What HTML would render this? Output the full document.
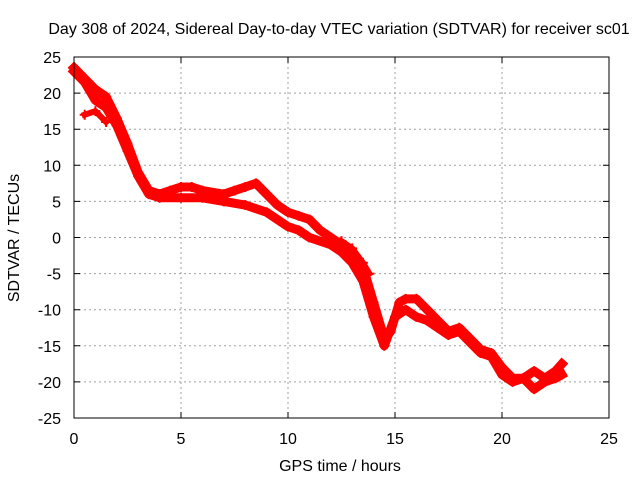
<!DOCTYPE html>
<html><head><meta charset="utf-8"><style>
body{margin:0;background:#fff}
svg{display:block;font-family:"Liberation Sans",sans-serif;font-size:16px}
</style></head><body>
<svg id="chart" width="640" height="480" viewBox="0 0 640 480">
<rect width="640" height="480" fill="#fff"/>
<text x="339" y="34" text-anchor="middle">Day 308 of 2024, Sidereal Day-to-day VTEC variation (SDTVAR) for receiver sc01</text>
<g id="grid"></g>
<g id="series"></g>
<rect x="74" y="57" width="535" height="361" fill="none" stroke="#000" stroke-width="1"/>
<g id="ticks"></g>
<text x="340" y="471" text-anchor="middle">GPS time / hours</text>
<text transform="translate(19,238) rotate(-90)" text-anchor="middle">SDTVAR / TECUs</text>
</svg>
<script>
const xTicks=[0,5,10,15,20,25];
const yTicks=[25,20,15,10,5,0,-5,-10,-15,-20,-25];
const tA=[0,0.5,1,1.5,2,2.5,3,3.5,4,4.5,5,5.5,6,7,7.5,8,8.5,9,9.5,10,10.5,11,11.5,12,12.5,13,13.5,14,14.5,14.8,15.2,15.5,16,16.5,17,17.5,18,18.5,19,19.5,20,20.5,21,21.5,22,22.5,22.8];
const vA=[23.5,22,20.5,19.5,16.5,13,9,6.5,6,6.5,7,7,6.5,6,6.5,7,7.5,6,4.5,3.5,3,2.5,1,0,-1,-2,-4,-9,-14,-13,-9,-8.5,-8.5,-10,-11.5,-13,-12.5,-14,-15.5,-16,-18,-19.5,-19.5,-18.5,-19.5,-18.5,-17.5];
const tB=[0,0.5,1,1.5,2,2.5,3,3.5,4,5,6,7,8,9,10,10.5,11,12,12.5,13,13.5,14,14.5,15,15.5,16,16.5,17,17.5,18,18.5,19,19.5,20,20.5,21,21.5,22,22.5,22.8];
const vB=[23,21.5,19,18,15.5,12,8.5,6,5.5,5.5,5.5,5,4.5,3.5,1.5,1,0,-1,-2,-3.5,-6,-11,-15,-11,-10,-11,-11.5,-12.5,-13.5,-13,-14.5,-16,-16.5,-19,-20,-19.5,-21,-20,-19.5,-19];
const tC=[0.5,1,1.5];
const vC=[17,17.5,16];
const tD=[12.5,13,13.5,13.8];
const vD=[-0.5,-1.5,-3.5,-5];
const X=t=>74+t*(535/25);
const Y=v=>237.5-v*(361/50);
const NS="http://www.w3.org/2000/svg";
const grid=document.getElementById('grid'),ticks=document.getElementById('ticks'),ser=document.getElementById('series');
function mk(tag,attrs,parent){const e=document.createElementNS(NS,tag);for(const k in attrs)e.setAttribute(k,attrs[k]);parent.appendChild(e);return e;}
xTicks.forEach(t=>{
  if(t>0&&t<25){const l=mk('line',{x1:X(t),x2:X(t),y1:57,y2:418,stroke:'#a0a0a0','stroke-dasharray':'2,3'},grid);
  
  }
  const tk=mk('path',{d:`M${X(t)},418v-6M${X(t)},57v6`,stroke:'#000'},ticks);
  
  
  const tx=mk('text',{x:X(t),y:444,'text-anchor':'middle'},ticks);tx.textContent=t;
  
  
});
yTicks.forEach(v=>{
  if(v>-25&&v<25){const l=mk('line',{x1:74,x2:609,y1:Y(v),y2:Y(v),stroke:'#a0a0a0','stroke-dasharray':'2,3'},grid);
  
  }
  const tk=mk('path',{d:`M74,${Y(v)}h6M609,${Y(v)}h-6`,stroke:'#000'},ticks);
  
  
  const tx=mk('text',{x:61,y:Y(v)+6,'text-anchor':'end'},ticks);tx.textContent=v;
  
  
});
function trace(ts,vs,name,w){
  const p=mk('polyline',{points:ts.map((t,i)=>X(t)+','+Y(vs[i])).join(' '),fill:'none',stroke:'#f00','stroke-width':w,'stroke-linejoin':'round','stroke-linecap':'square'},ser);
  
  
  ts.forEach((t,i)=>{const m=mk('path',{d:`M${X(t)-5},${Y(vs[i])}h10M${X(t)},${Y(vs[i])-5}v10`,stroke:'#f00','stroke-width':2},ser);
    
    });
}
trace(tA,vA,'trace-upper',9);
trace(tB,vB,'trace-lower',9);
trace(tC,vC,'trace-early-branch',6);
trace(tD,vD,'trace-late-branch',6);
</script>
</body></html>
